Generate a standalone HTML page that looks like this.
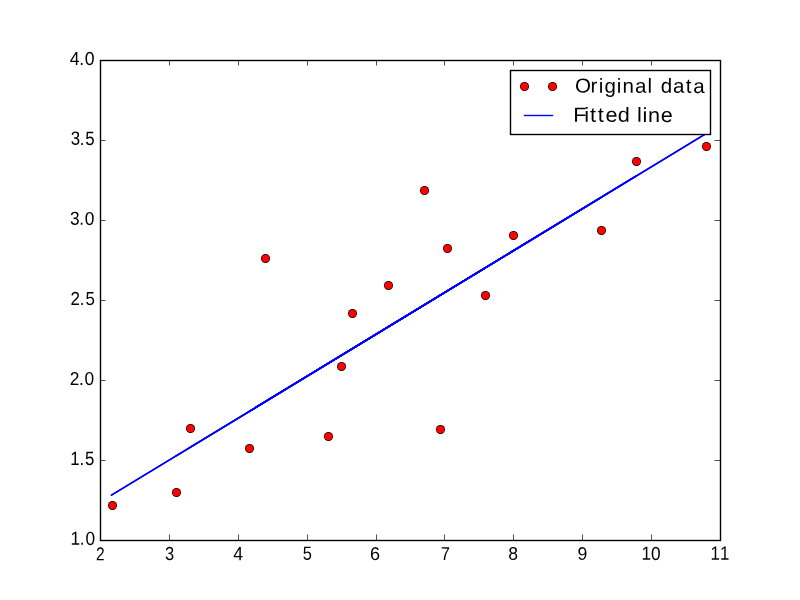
<!DOCTYPE html><html><head><meta charset="utf-8"><style>html,body{margin:0;padding:0;background:#fff;overflow:hidden}svg{display:block}text{font-family:"Liberation Sans",sans-serif;fill:#000;text-rendering:geometricPrecision}</style></head><body>
<svg width="800" height="600" viewBox="0 0 800 600" style="will-change:transform">
<rect width="800" height="600" fill="#fff"/>
<g stroke="#0000ff" stroke-width="1.53" stroke-linecap="round"><line x1="189.556" y1="447.717" x2="265.333" y2="401.622"/><line x1="265.333" y1="401.622" x2="341.111" y2="355.528"/><line x1="341.111" y1="355.528" x2="424.467" y2="304.824"/><line x1="424.467" y1="304.824" x2="439.622" y2="295.605"/><line x1="439.622" y1="295.605" x2="249.351" y2="411.344"/><line x1="249.351" y1="411.344" x2="635.887" y2="176.221"/><line x1="635.887" y1="176.221" x2="388.093" y2="326.949"/><line x1="388.093" y1="326.949" x2="485.089" y2="267.949"/><line x1="485.089" y1="267.949" x2="111.504" y2="495.194"/><line x1="111.504" y1="495.194" x2="447.338" y2="290.912"/><line x1="447.338" y1="290.912" x2="705.602" y2="133.814"/><line x1="705.602" y1="133.814" x2="328.229" y2="363.364"/><line x1="328.229" y1="363.364" x2="513.127" y2="250.894"/><line x1="513.127" y1="250.894" x2="351.720" y2="349.075"/><line x1="351.720" y1="349.075" x2="600.822" y2="197.550"/><line x1="600.822" y1="197.550" x2="175.778" y2="456.098"/></g>
<circle cx="190.5" cy="428.5" r="4.5139"/><circle cx="190.5" cy="428.5" r="3.8194" fill="#f00"/>
<circle cx="265.5" cy="258.5" r="4.5139"/><circle cx="265.5" cy="258.5" r="3.8194" fill="#f00"/>
<circle cx="341.5" cy="366.5" r="4.5139"/><circle cx="341.5" cy="366.5" r="3.8194" fill="#f00"/>
<circle cx="424.5" cy="190.5" r="4.5139"/><circle cx="424.5" cy="190.5" r="3.8194" fill="#f00"/>
<circle cx="440.5" cy="429.5" r="4.5139"/><circle cx="440.5" cy="429.5" r="3.8194" fill="#f00"/>
<circle cx="249.5" cy="448.5" r="4.5139"/><circle cx="249.5" cy="448.5" r="3.8194" fill="#f00"/>
<circle cx="636.5" cy="161.5" r="4.5139"/><circle cx="636.5" cy="161.5" r="3.8194" fill="#f00"/>
<circle cx="388.5" cy="285.5" r="4.5139"/><circle cx="388.5" cy="285.5" r="3.8194" fill="#f00"/>
<circle cx="485.5" cy="295.5" r="4.5139"/><circle cx="485.5" cy="295.5" r="3.8194" fill="#f00"/>
<circle cx="112.5" cy="505.5" r="4.5139"/><circle cx="112.5" cy="505.5" r="3.8194" fill="#f00"/>
<circle cx="447.5" cy="248.5" r="4.5139"/><circle cx="447.5" cy="248.5" r="3.8194" fill="#f00"/>
<circle cx="706.5" cy="146.5" r="4.5139"/><circle cx="706.5" cy="146.5" r="3.8194" fill="#f00"/>
<circle cx="328.5" cy="436.5" r="4.5139"/><circle cx="328.5" cy="436.5" r="3.8194" fill="#f00"/>
<circle cx="513.5" cy="235.5" r="4.5139"/><circle cx="513.5" cy="235.5" r="3.8194" fill="#f00"/>
<circle cx="352.5" cy="313.5" r="4.5139"/><circle cx="352.5" cy="313.5" r="3.8194" fill="#f00"/>
<circle cx="601.5" cy="230.5" r="4.5139"/><circle cx="601.5" cy="230.5" r="3.8194" fill="#f00"/>
<circle cx="176.5" cy="492.5" r="4.5139"/><circle cx="176.5" cy="492.5" r="3.8194" fill="#f00"/>
<path d="M100.5 540V534.44M100.5 60V65.56M169.5 540V534.44M169.5 60V65.56M238.5 540V534.44M238.5 60V65.56M307.5 540V534.44M307.5 60V65.56M376.5 540V534.44M376.5 60V65.56M444.5 540V534.44M444.5 60V65.56M513.5 540V534.44M513.5 60V65.56M582.5 540V534.44M582.5 60V65.56M651.5 540V534.44M651.5 60V65.56M720.5 540V534.44M720.5 60V65.56M100 540.5H105.56M720 540.5H714.44M100 460.5H105.56M720 460.5H714.44M100 380.5H105.56M720 380.5H714.44M100 300.5H105.56M720 300.5H714.44M100 220.5H105.56M720 220.5H714.44M100 140.5H105.56M720 140.5H714.44M100 60.5H105.56M720 60.5H714.44" stroke="#000" stroke-width="0.69" fill="none"/>
<rect x="100.5" y="60.5" width="620" height="480" fill="none" stroke="#000" stroke-width="1.39"/>
<text x="-4.91 4.60 10.26" transform="translate(75.332 544.854) rotate(0.15) scale(0.9815 1.0785)" font-size="17.6">1.0</text>
<text x="-4.91 4.80 10.70" transform="translate(74.851 464.905) rotate(0.15) scale(0.9548 1.0926)" font-size="17.6">1.5</text>
<text x="-5.00 4.52 10.14" transform="translate(74.608 384.942) rotate(0.15) scale(0.9847 1.0634)" font-size="17.6">2.0</text>
<text x="-5.00 4.70 10.57" transform="translate(75.375 305.097) rotate(0.15) scale(0.9587 1.0695)" font-size="17.6">2.5</text>
<text x="-5.49 3.85 9.50" transform="translate(75.417 224.864) rotate(0.15) scale(0.9827 1.0660)" font-size="17.6">3.0</text>
<text x="-5.49 4.02 9.90" transform="translate(75.895 144.887) rotate(0.15) scale(0.9572 1.0873)" font-size="17.6">3.5</text>
<text x="-5.34 4.06 9.58" transform="translate(75.178 64.980) rotate(0.15) scale(1.0006 1.0725)" font-size="17.6">4.0</text>
<text transform="translate(96.112 560.221) rotate(0.15) scale(0.8802 1.0493)" font-size="17.6">2</text>
<text transform="translate(164.971 559.945) rotate(0.15) scale(0.9356 1.0726)" font-size="17.6">3</text>
<text transform="translate(233.188 560.128) rotate(0.15) scale(1.0008 1.0999)" font-size="17.6">4</text>
<text transform="translate(302.693 559.746) rotate(0.15) scale(0.9335 1.0818)" font-size="17.6">5</text>
<text transform="translate(370.114 559.946) rotate(0.15) scale(1.0264 1.0513)" font-size="17.6">6</text>
<text transform="translate(440.854 560.038) rotate(0.15) scale(0.9389 1.0557)" font-size="17.6">7</text>
<text transform="translate(508.355 559.756) rotate(0.15) scale(0.9982 1.0401)" font-size="17.6">8</text>
<text transform="translate(577.382 559.672) rotate(0.15) scale(1.0013 1.0311)" font-size="17.6">9</text>
<text x="-4.91 4.95" transform="translate(646.245 559.873) rotate(0.15) scale(0.9770 1.0769)" font-size="17.6">10</text>
<text x="-4.91 5.13" transform="translate(715.211 559.856) rotate(0.15) scale(0.9534 1.1037)" font-size="17.6">11</text>
<rect x="510.5" y="70.5" width="200" height="64" fill="#fff" stroke="#000" stroke-width="1.39"/>
<circle cx="524.5" cy="86.5" r="4.5139"/><circle cx="524.5" cy="86.5" r="3.8194" fill="#f00"/>
<circle cx="552.5" cy="86.5" r="4.5139"/><circle cx="552.5" cy="86.5" r="3.8194" fill="#f00"/>
<line x1="523.8" y1="115.5" x2="553.2" y2="115.5" stroke="#0000ff" stroke-width="1.39"/>
<text x="-8.06 7.73 16.01 21.77 34.40 40.15 52.90 65.54 71.78 78.82 91.43 104.34 111.97" transform="translate(582.922 92.601) rotate(0.15) scale(0.9861 0.9740)" font-size="20.8">Original data</text>
<text x="-5.10 5.56 11.02 18.57 25.87 37.83 44.07 56.17 61.46 66.67 78.93" transform="translate(578.470 121.718) rotate(0.15) scale(1.0414 0.9839)" font-size="20.8">Fitted line</text>
</svg></body></html>
